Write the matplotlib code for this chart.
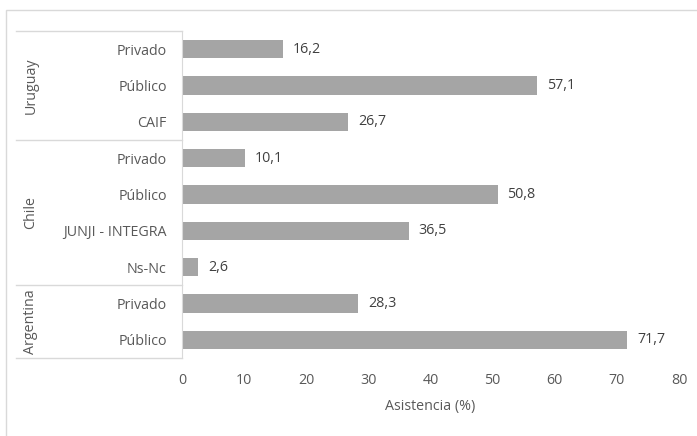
import matplotlib
matplotlib.use("Agg")
import matplotlib.pyplot as plt
from matplotlib.patches import Rectangle
from matplotlib.lines import Line2D

categories = ["Privado", "Público", "CAIF",
              "Privado", "Público", "JUNJI - INTEGRA", "Ns-Nc",
              "Privado", "Público"]
values = [16.2, 57.1, 26.7, 10.1, 50.8, 36.5, 2.6, 28.3, 71.7]
groups = ["Uruguay", "Chile", "Argentina"]
group_sizes = [3, 4, 2]
xticks = [0, 10, 20, 30, 40, 50, 60, 70, 80]

plt.rcParams['font.family'] = ['Open Sans', 'DejaVu Sans']
W, H = 697, 436
fig = plt.figure(figsize=(W / 100, H / 100), dpi=100)
ax = fig.add_axes([182 / W, 1 - 358 / H, (679 - 182) / W, (358 - 31) / H])

text_col = "#595959"
bar_col = "#A5A5A5"
line_col = "#D9D9D9"
fs = 10.3

n = len(categories)
ypos = list(range(n))
ax.barh(ypos, values, height=0.5, color=bar_col)
ax.set_ylim(n - 0.5, -0.5)
ax.set_xlim(0, 80)
ax.set_xticks(xticks)
ax.set_xticklabels([str(t) for t in xticks], color=text_col, fontsize=fs)
ax.set_yticks(ypos)
ax.set_yticklabels(categories, color=text_col, fontsize=fs)
ax.tick_params(axis='both', length=0)
ax.tick_params(axis='x', pad=11)
ax.tick_params(axis='y', pad=11)
for s in ["top", "right", "bottom"]:
    ax.spines[s].set_visible(False)
ax.spines["left"].set_color(line_col)
ax.set_xlabel("Asistencia (%)", color=text_col, fontsize=fs, labelpad=8)

for y, v in zip(ypos, values):
    ax.text(v + 1.6, y, f"{v:.1f}".replace(".", ","), va="center", ha="left",
            color="#404040", fontsize=fs)

# group table lines and labels
trans = ax.get_yaxis_transform()
x_left = (16 - 182) / (679 - 182)
start = 0
bounds = [-0.5]
for g, sz in zip(groups, group_sizes):
    end = start + sz
    bounds.append(end - 0.5)
    mid = (start + end - 1) / 2
    ax.text(x_left + 0.03, mid, g, rotation=90, ha="center", va="center",
            color=text_col, fontsize=fs, transform=trans, clip_on=False)
    start = end
for b in bounds:
    ax.add_line(Line2D([x_left, 0], [b, b], transform=trans, color=line_col,
                       lw=1, clip_on=False))

# outer frame
fig.patches.append(Rectangle((6 / W, -0.01), 1.0, 1 - 10 / H + 0.01,
                             transform=fig.transFigure, fill=False,
                             edgecolor=line_col, lw=1))

fig.savefig("out.png", dpi=100)
